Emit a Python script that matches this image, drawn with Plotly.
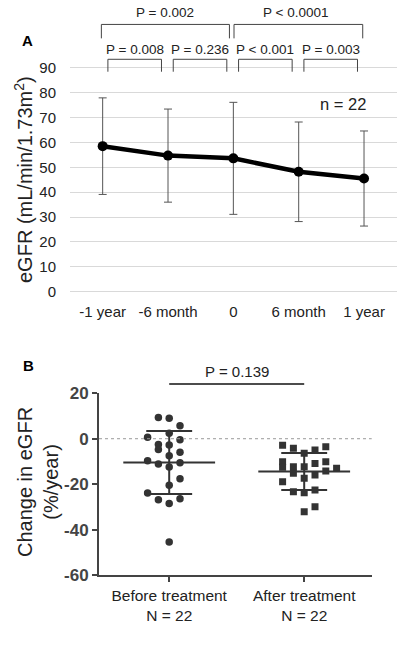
import numpy as np
import plotly.graph_objects as go

# Panel A: eGFR over time
time_labels = ["-1 year", "-6 month", "0", "6 month", "1 year"]
egfr_mean = [58.5, 54.7, 53.6, 48.2, 45.5]
egfr_sd = [19.4, 18.7, 22.5, 20.0, 19.1]
n_label = "n = 22"

# neighbouring comparisons and the two half-period comparisons
pair_brackets = [(0, 1), (1, 2), (2, 3), (3, 4)]
pair_pvalues = ["P = 0.008", "P = 0.236", "P < 0.001", "P = 0.003"]
span_brackets = [(0, 2), (2, 4)]
span_pvalues = ["P = 0.002", "P < 0.0001"]

# Panel B: change in eGFR (%/year)
group_labels = ["Before treatment<br>N = 22", "After treatment<br>N = 22"]
before_change = [9.4, 9.0, 5.7, 2.4, 0.6, -0.4, -2.5, -2.8, -4.7, -5.9, -7.5,
                 -9.7, -11.1, -10.6, -12.5, -17.6, -20.5, -23.9, -26.4, -26.9,
                 -28.5, -45.5]
after_change = [-2.9, -4.2, -3.5, -5.0, -6.4, -10.1, -12.6, -12.3, -10.1, -10.9,
                -12.3, -13.0, -14.2, -15.2, -16.0, -17.4, -18.9, -23.3, -23.8,
                -22.6, -30.0, -32.2]
group_pvalue = "P = 0.139"
b_ticks = [-60, -40, -20, 0, 20]
b_ticktext = ["-60", "-40", "-20", "0", "20"]

# scatter (beeswarm) offsets of each dot, in category units
before_jit = [-0.08, 0, 0.08, 0, -0.16, 0.08, -0.08, 0, -0.08, 0.08, 0,
              -0.16, -0.08, 0.08, 0, 0.08, 0, -0.16, 0.08, -0.08, 0, 0]
after_jit = [-0.16, -0.08, 0.16, 0.08, 0, -0.16, -0.16, -0.08, 0.16, 0.08,
             0, 0.24, 0.16, -0.08, 0.08, 0, -0.16, -0.08, 0, 0.08, 0.08, 0]

FONT = "Liberation Sans, Arial, sans-serif"
DARK = "#333333"
W, H = 406, 646


def px(x):
    return x / W


def py(y):
    return 1 - y / H


xa_dom, xa_rng = (px(70), px(396.7)), (-0.5, 4.5)
ya_dom, ya_rng = (py(293), py(66.5)), (-0.5, 90.5)
xb_dom, xb_rng = (px(99), px(371.7)), (-0.52, 1.5)
yb_dom, yb_rng = (py(575), py(393.3)), (-60, 20)


def to_paper(v, dom, rng):
    return dom[0] + (v - rng[0]) / (rng[1] - rng[0]) * (dom[1] - dom[0])


fig = go.Figure()

xs = list(range(len(time_labels)))
fig.add_trace(go.Scatter(
    x=xs, y=egfr_mean, mode="lines+markers",
    line=dict(color="black", width=4.5),
    marker=dict(size=10, color="black"),
    error_y=dict(type="data", array=egfr_sd, color="#555555", thickness=1, width=4),
    xaxis="x", yaxis="y", showlegend=False,
))

# panel B dots
fig.add_trace(go.Scatter(
    x=[0 + j for j in before_jit], y=before_change, mode="markers",
    marker=dict(symbol="circle", size=7.5, color=DARK),
    xaxis="x2", yaxis="y2", showlegend=False,
))
fig.add_trace(go.Scatter(
    x=[1 + j for j in after_jit], y=after_change, mode="markers",
    marker=dict(symbol="square", size=7, color=DARK),
    xaxis="x2", yaxis="y2", showlegend=False,
))

# mean and SD bars
for c, vals in enumerate([before_change, after_change]):
    m, s = np.mean(vals), np.std(vals, ddof=1)
    for xx, yy in [([c - 0.34, c + 0.34], [m, m]),
                   ([c - 0.17, c + 0.17], [m + s, m + s]),
                   ([c - 0.17, c + 0.17], [m - s, m - s]),
                   ([c, c], [m - s, m + s])]:
        fig.add_trace(go.Scatter(x=xx, y=yy, mode="lines",
                                 line=dict(color=DARK, width=2),
                                 xaxis="x2", yaxis="y2", showlegend=False,
                                 hoverinfo="skip"))

shapes = []
annotations = []


def note(x, y, text, size, **kw):
    d = dict(x=x, y=y, xref="paper", yref="paper", text=text, showarrow=False,
             xanchor="center", yanchor="middle", font=dict(size=size, color="#222"))
    d.update(kw)
    annotations.append(d)


def bracket(x0, x1, ytop, yleg, xd, xr, yd, yr, color="#444444"):
    px0, px1 = to_paper(x0, xd, xr), to_paper(x1, xd, xr)
    pt, pl = to_paper(ytop, yd, yr), to_paper(yleg, yd, yr)
    shapes.append(dict(type="path", xref="paper", yref="paper",
                       path=f"M {px0} {pl} L {px0} {pt} L {px1} {pt} L {px1} {pl}",
                       line=dict(color=color, width=1)))


for (i, j), p in zip(pair_brackets, pair_pvalues):
    bracket(i + 0.08, j - 0.1, 93.4, 88.4, xa_dom, xa_rng, ya_dom, ya_rng)
    note(to_paper((i + j - 0.02) / 2, xa_dom, xa_rng), to_paper(97.4, ya_dom, ya_rng), p, 13.5)
for (i, j), p in zip(span_brackets, span_pvalues):
    bracket(i - 0.02 if i == 0 else i + 0.01, j - 0.06 if j == 2 else j - 0.02,
            107.4, 101.8, xa_dom, xa_rng, ya_dom, ya_rng)
    note(to_paper((i + j) / 2 - 0.05, xa_dom, xa_rng), to_paper(112.1, ya_dom, ya_rng), p, 13.5)

# panel B significance bar
shapes.append(dict(type="line", xref="paper", yref="paper",
                   x0=to_paper(0, xb_dom, xb_rng), x1=to_paper(1, xb_dom, xb_rng),
                   y0=to_paper(24.1, yb_dom, yb_rng), y1=to_paper(24.1, yb_dom, yb_rng),
                   line=dict(color="#111", width=1.5)))
note(to_paper(0.5, xb_dom, xb_rng), to_paper(29.5, yb_dom, yb_rng), group_pvalue, 15)

# dotted zero line
shapes.append(dict(type="line", xref="x2 domain", yref="y2", x0=0, x1=1, y0=0, y1=0,
                   line=dict(color="#999999", width=1, dash="dot")))

note(to_paper(3.68, xa_dom, xa_rng), to_paper(75.4, ya_dom, ya_rng), n_label, 16.5)
note(px(23), py(180), "eGFR (mL/min/1.73m<sup>2</sup>)", 20, textangle=-90)
note(px(38), py(482), "Change in eGFR<br>(%/year)", 20, textangle=-90)
note(px(27), py(40), "<b>A</b>", 15, font=dict(size=15, color="black"))
note(px(28), py(365), "<b>B</b>", 15, font=dict(size=15, color="black"))

fig.update_layout(
    width=W, height=H, margin=dict(l=0, r=0, t=0, b=0, pad=0), autosize=False,
    paper_bgcolor="white", plot_bgcolor="white",
    font=dict(family=FONT, color="#222"),
    shapes=shapes, annotations=annotations,
    xaxis=dict(domain=list(xa_dom), range=list(xa_rng), tickvals=xs, ticktext=time_labels,
               showgrid=False, zeroline=False, showline=False, ticks="outside",
               ticklen=5, tickcolor="rgba(0,0,0,0)", tickfont=dict(size=15, color="#222"),
               automargin=False),
    yaxis=dict(domain=list(ya_dom), range=list(ya_rng), tickvals=list(range(0, 91, 10)),
               showgrid=True, gridcolor="#d9d9d9", gridwidth=1, zeroline=False,
               showline=False, ticks="outside", ticklen=10, tickcolor="rgba(0,0,0,0)",
               tickfont=dict(size=15, color="#222"), automargin=False),
    xaxis2=dict(domain=list(xb_dom), range=list(xb_rng), anchor="y2", tickvals=[0, 1],
                ticktext=group_labels, showgrid=False, zeroline=False, showline=True,
                linecolor="#444", linewidth=2, ticks="outside", ticklen=5, tickwidth=2,
                tickcolor="#444", tickfont=dict(size=15.5, color="#222"), automargin=False),
    yaxis2=dict(domain=list(yb_dom), range=list(yb_rng), anchor="x2",
                tickvals=b_ticks, ticktext=b_ticktext, showgrid=False, zeroline=False,
                showline=True, linecolor="#444", linewidth=2, ticks="outside",
                ticklen=5, tickwidth=2, tickcolor="#444", automargin=False,
                tickfont=dict(size=17, color="#444", family=FONT, weight="bold")),
)

# drop the browser's default page margin so the figure sits at the window corner
fig.write_html("out.html", config={"displayModeBar": False},
               post_script="document.body.style.margin='0px';")
